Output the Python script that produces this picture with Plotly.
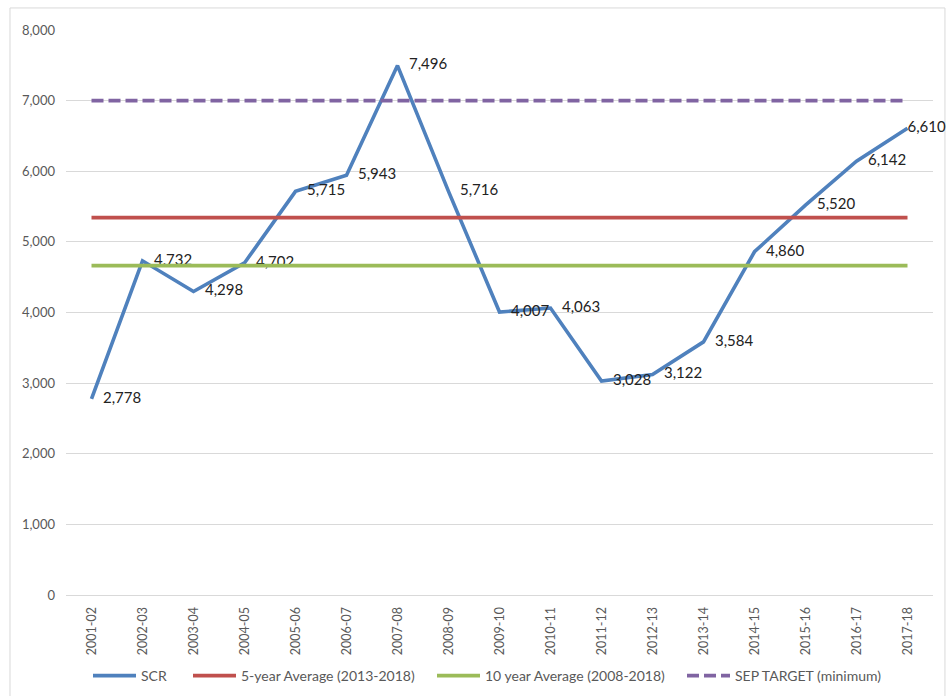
import plotly.graph_objects as go

years = ["2001-02", "2002-03", "2003-04", "2004-05", "2005-06", "2006-07", "2007-08",
         "2008-09", "2009-10", "2010-11", "2011-12", "2012-13", "2013-14", "2014-15",
         "2015-16", "2016-17", "2017-18"]
scr = [2778, 4732, 4298, 4702, 5715, 5943, 7496, 5716, 4007, 4063, 3028, 3122, 3584,
       4860, 5520, 6142, 6610]
avg5 = 5343
avg10 = 4665
sep_target = 7000

FONT = "Lato, 'Open Sans', sans-serif"
W, H = 949, 696
NB = "\u00a0"

labels = [NB * 3 + f"{v:,}" for v in scr]
labels[-1] = f"{scr[-1]:,}"  # last label sits tight against the point, as in the original

fig = go.Figure()
fig.add_trace(go.Scatter(
    x=years, y=scr, name="SCR", mode="lines+text", legend="legend",
    line=dict(color="#4F81BD", width=3.6), cliponaxis=False,
    text=labels, textposition="middle right",
    textfont=dict(size=15, color="#222222", family=FONT),
))
fig.add_trace(go.Scatter(
    x=years, y=[avg5] * len(years), name="5-year Average (2013-2018)", mode="lines",
    legend="legend2", line=dict(color="#C0504D", width=3.8),
))
fig.add_trace(go.Scatter(
    x=years, y=[avg10] * len(years), name="10 year Average (2008-2018)", mode="lines",
    legend="legend3", line=dict(color="#9BBB59", width=3.8),
))
fig.add_trace(go.Scatter(
    x=years, y=[sep_target] * len(years), name="SEP TARGET (minimum)", mode="lines",
    legend="legend4", line=dict(color="#8064A2", width=3.8, dash="12px,5px"),
))

def leg(px):
    return dict(orientation="h", x=px / W, y=(H - 676) / H, xref="container",
                yref="container", xanchor="left", yanchor="middle",
                font=dict(size=14, color="#595959", family=FONT), itemwidth=43,
                bgcolor="rgba(0,0,0,0)")

fig.update_layout(
    width=W, height=H,
    margin=dict(l=66, r=16, t=30, b=101, autoexpand=False),
    paper_bgcolor="white", plot_bgcolor="white",
    font=dict(family=FONT, color="#595959", size=13),
    showlegend=True,
    legend=leg(88), legend2=leg(188), legend3=leg(432), legend4=leg(682),
    xaxis=dict(type="category", range=[-0.5, 16.5], tickangle=-90, showgrid=False,
               showline=True, linecolor="#d9d9d9", linewidth=1, ticks="",
               automargin=False, ticklabelstandoff=6,
               tickfont=dict(size=12.5, color="#595959"), zeroline=False),
    yaxis=dict(range=[0, 8000], dtick=1000, tickformat=",", showgrid=True,
               gridcolor="#d9d9d9", gridwidth=1, zeroline=False, showline=False,
               ticks="", ticklabelstandoff=10, automargin=False,
               tickfont=dict(size=13, color="#595959")),
    shapes=[dict(type="rect", xref="paper", yref="paper", x0=-0.0646, x1=1.0138,
                 y0=-0.3, y1=1.039, line=dict(color="#d9d9d9", width=1),
                 fillcolor="rgba(0,0,0,0)", layer="below")],
)

fig.write_html("out.html")
